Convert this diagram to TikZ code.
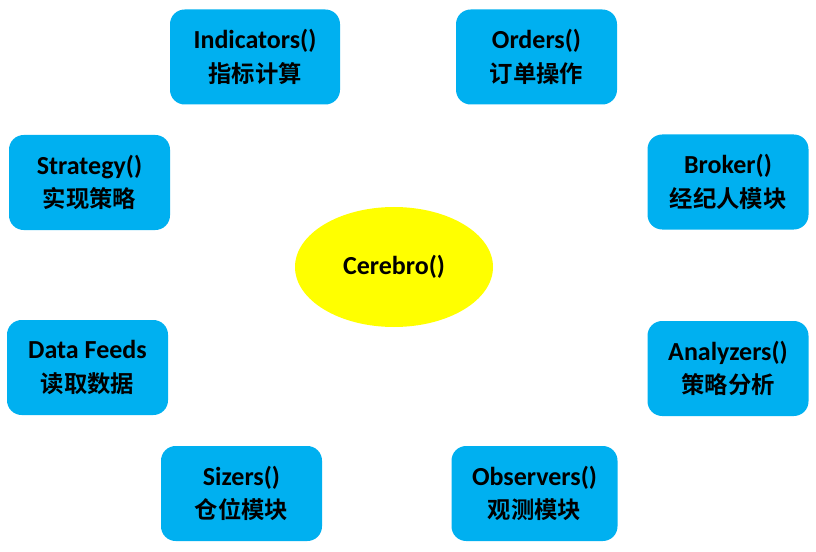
\documentclass[tikz,border=0pt]{standalone}
\usepackage{fontspec}
\setmainfont{Carlito}
\newfontfamily\cjk{Noto Sans CJK SC}[BoldFont={Noto Sans CJK SC Bold}]
\usetikzlibrary{shapes.geometric}
\definecolor{boxblue}{HTML}{00B0F0}
\definecolor{hubyellow}{HTML}{FFFF00}
\newcommand{\twoline}[2]{#1\\[1pt]{\cjk\bfseries\fontsize{17.5}{24}\selectfont #2}}

\begin{document}
\begin{tikzpicture}[x=0.75pt, y=-0.75pt,
                every node/.style={
                        text centered,
                        align=center,
                        inner sep=0pt,
                        font=\bfseries\fontsize{19.5}{24}\selectfont},
                modbox/.style={
                        rectangle,
                        fill=boxblue,
                        rounded corners=11pt,
                        minimum width=120.75pt,
                        minimum height=71.25pt},
                hub/.style={
                        ellipse,
                        fill=hubyellow,
                        minimum width=148.5pt,
                        minimum height=90pt}]

                \useasboundingbox (0, 0) rectangle (816, 552);

                \node[hub] (A) at (394, 267) {Cerebro()};

                \node[modbox, minimum width=127.5pt] (B) at (255, 57) {\twoline{Indicators()}{指标计算}};

                \node[modbox] (C) at (536.5, 57) {\twoline{Orders()}{订单操作}};

                \node[modbox] (D) at (89.5, 182.5) {\twoline{Strategy()}{实现策略}};

                \node[modbox] (E) at (728, 182) {\twoline{Broker()}{经纪人模块}};

                \node[modbox] (F) at (87.5, 367.5) {\twoline{Data Feeds}{读取数据}};

                \node[modbox] (G) at (728, 368.5) {\twoline{Analyzers()}{策略分析}};

                \node[modbox] (H) at (241.5, 493.5) {\twoline{Sizers()}{仓位模块}};

                \node[modbox, minimum width=124.5pt] (I) at (534.5, 493.5) {\twoline{Observers()}{观测模块}};
            \end{tikzpicture}
\end{document}
